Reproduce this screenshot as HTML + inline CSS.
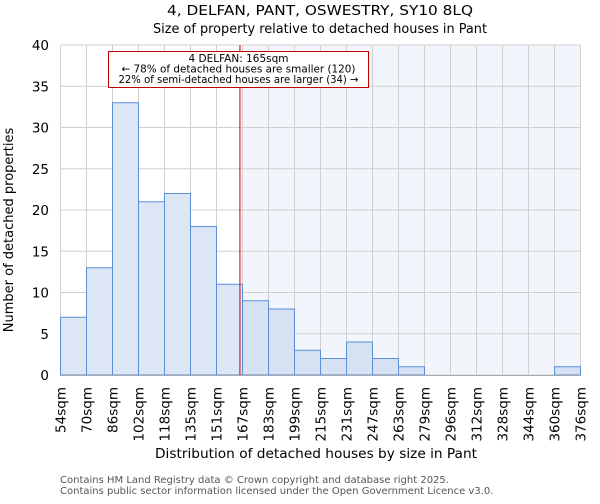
<!DOCTYPE html>
<html><head><meta charset="utf-8"><style>
body{margin:0;background:#fff;font-family:"DejaVu Sans","Liberation Sans",sans-serif;}
</style></head><body>
<svg id="chart" width="600" height="500" xmlns="http://www.w3.org/2000/svg" font-family="DejaVu Sans, Liberation Sans, sans-serif">
<text x="320" y="15" font-size="13" text-anchor="middle" textLength="306" lengthAdjust="spacingAndGlyphs">4, DELFAN, PANT, OSWESTRY, SY10 8LQ</text>
<text x="320" y="33" font-size="13" text-anchor="middle" textLength="334" lengthAdjust="spacingAndGlyphs">Size of property relative to detached houses in Pant</text>
<g id="plot"></g>
<text x="316" y="458" font-size="13" text-anchor="middle" textLength="322" lengthAdjust="spacingAndGlyphs">Distribution of detached houses by size in Pant</text>
<text transform="translate(13,230) rotate(-90)" font-size="13" text-anchor="middle">Number of detached properties</text>
<text x="60" y="483" font-size="10" fill="#555">Contains HM Land Registry data © Crown copyright and database right 2025.</text>
<text x="60" y="494" font-size="10" fill="#555">Contains public sector information licensed under the Open Government Licence v3.0.</text>
</svg>
<script>
const binLabels=["54sqm","70sqm","86sqm","102sqm","118sqm","135sqm","151sqm","167sqm","183sqm","199sqm","215sqm","231sqm","247sqm","263sqm","279sqm","296sqm","312sqm","328sqm","344sqm","360sqm","376sqm"];
const counts=[7,13,33,21,22,18,11,9,8,3,2,4,2,1,0,0,0,0,0,1];
const yTicks=[0,5,10,15,20,25,30,35,40];
const markerBin=6.94;
const NS="http://www.w3.org/2000/svg";
const g=document.getElementById('plot');
const X0=60.5,X1=580.5,Y0=375,Y1=45,yMax=40;
const bw=(X1-X0)/counts.length;
const xs=i=>X0+i*bw;
const ys=v=>Y0-(Y0-Y1)*v/yMax;
function el(t,a){const e=document.createElementNS(NS,t);for(const k in a)e.setAttribute(k,a[k]);g.appendChild(e);return e;}
const mx=xs(markerBin);
let s=el('rect',{x:mx,y:Y1,width:X1-mx,height:Y0-Y1,fill:'#f2f5fc'});


for(let i=0;i<=counts.length;i++){let l=el('line',{x1:xs(i),x2:xs(i),y1:Y1,y2:Y0,stroke:'#d0d0d0'});

}
yTicks.forEach(v=>{let l=el('line',{x1:X0,x2:X1,y1:ys(v),y2:ys(v),stroke:'#d0d0d0'});


let t=el('text',{x:49,y:ys(v)+5,'font-size':13.5,'text-anchor':'end'});t.textContent=v;

});
counts.forEach((c,i)=>{if(c<=0)return;let r=el('rect',{x:xs(i),y:ys(c),width:bw,height:Y0-ys(c),fill:i>=7?'#d6e1f3':'#dde6f4',stroke:'#5b8fd9','stroke-width':1});

});
let ax=el('line',{x1:X0,x2:X1,y1:Y0+0.5,y2:Y0+0.5,stroke:'#aaa'});


binLabels.forEach((b,i)=>{let t=el('text',{transform:`translate(${xs(i)+5},387) rotate(-90)`,'font-size':13.5,'text-anchor':'end'});t.textContent=b;

});
let ml=el('line',{x1:mx-1,x2:mx-1,y1:Y1,y2:Y0,stroke:'#c00000','stroke-width':1});


let bx=el('rect',{x:108.5,y:51.5,width:260,height:36,fill:'#fff',stroke:'#c00000'});


const lens=[100,234,240];
["4 DELFAN: 165sqm","← 78% of detached houses are smaller (120)","22% of semi-detached houses are larger (34) →"].forEach((s,i)=>{let t=el('text',{x:238.5,y:62+i*10.5,'font-size':10.5,'text-anchor':'middle',textLength:lens[i],lengthAdjust:'spacingAndGlyphs'});t.textContent=s;

});
</script>
</body></html>
